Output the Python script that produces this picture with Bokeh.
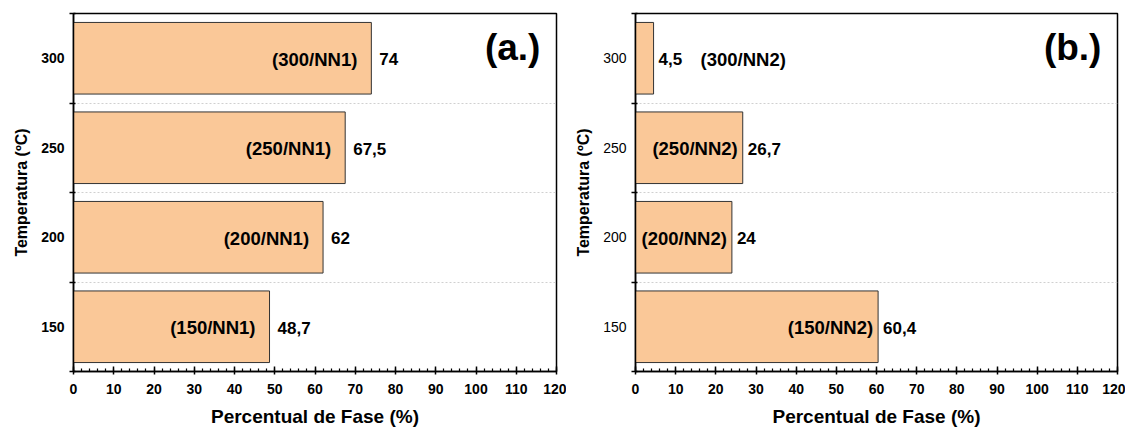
from bokeh.plotting import figure
from bokeh.models import ColumnDataSource, FixedTicker, SingleIntervalTicker, Label
from bokeh.layouts import row
from bokeh.embed import file_html
from bokeh.resources import INLINE
from bokeh.core.properties import value

temperatures = ["150", "200", "250", "300"]
values_a = [48.7, 62, 67.5, 74]
values_b = [60.4, 24, 26.7, 4.5]
sample_a = ["(150/NN1)", "(200/NN1)", "(250/NN1)", "(300/NN1)"]
sample_b = ["(150/NN2)", "(200/NN2)", "(250/NN2)", "(300/NN2)"]
x_label = "Percentual de Fase (%)"
y_label = "Temperatura (ºC)"

FONT = "Liberation Sans"
BAR_FILL = "#FAC898"


def fmt(v):
    return f"{v:g}".replace(".", ",")


def make_panel(vals, names, tag, width, left, right, ylab_bold, in_off, val_off):
    n = len(temperatures)
    ypos = [i + 0.5 for i in range(n)]
    p = figure(width=width, height=429, x_range=(0, 120), y_range=(0, n),
               output_backend="svg", toolbar_location=None,
               min_border_left=left, min_border_right=right,
               min_border_top=13, min_border_bottom=0)
    p.outline_line_color = "black"
    p.outline_line_width = 1.5
    p.xgrid.visible = False
    p.ygrid.ticker = FixedTicker(ticks=list(range(1, n)))
    p.ygrid.grid_line_color = "#c4c4c4"
    p.ygrid.grid_line_dash = "2 2"
    p.ygrid.grid_line_width = 0.8

    src = ColumnDataSource(dict(
        y=ypos, v=vals, name=names, vt=[fmt(v) for v in vals],
    ))
    p.hbar(y="y", right="v", left=0, height=0.8, source=src,
           fill_color=BAR_FILL, line_color="#333333", line_width=1)

    # value labels
    p.text(x="v", y="y", text="vt", source=src, x_offset=val_off,
           y_offset=1, text_align="left", text_baseline="middle",
           text_font=value(FONT), text_font_style="bold", text_font_size="17px",
           text_color="black")

    # sample labels: inside when bar is wide, else after value label
    inside = dict(x=[], y=[], t=[])
    outside = dict(x=[], y=[], t=[])
    for v, y, nm in zip(vals, ypos, names):
        d = inside if v >= 10 else outside
        d["x"].append(v)
        d["y"].append(y)
        d["t"].append(nm)
    p.text(x="x", y="y", text="t", source=ColumnDataSource(inside), x_offset=in_off,
           y_offset=1, text_align="right", text_baseline="middle",
           text_font=value(FONT), text_font_style="bold", text_font_size="18.5px",
           text_color="black")
    p.text(x="x", y="y", text="t", source=ColumnDataSource(outside), x_offset=47,
           y_offset=1, text_align="left", text_baseline="middle",
           text_font=value(FONT), text_font_style="bold", text_font_size="18.5px",
           text_color="black")

    p.add_layout(Label(x=116, y=3.62, text=tag, text_align="right",
                       text_baseline="middle", text_font=FONT,
                       text_font_style="bold", text_font_size="37px",
                       text_color="black"))

    # x axis
    xa = p.xaxis[0]
    xa.ticker = SingleIntervalTicker(interval=10, num_minor_ticks=5)
    xa.axis_label = x_label
    xa.axis_label_text_font = FONT
    xa.axis_label_text_font_style = "bold"
    xa.axis_label_text_font_size = "19px"
    xa.axis_label_text_color = "black"
    xa.axis_label_standoff = 9
    xa.major_label_text_font = FONT
    xa.major_label_text_font_style = "bold"
    xa.major_label_text_font_size = "14px"
    xa.major_label_text_color = "black"
    xa.major_label_standoff = 9
    xa.major_tick_in = 5
    xa.major_tick_out = 3
    xa.minor_tick_in = 3
    xa.minor_tick_out = 0
    xa.axis_line_width = 1.5
    xa.axis_line_color = "black"
    xa.major_tick_line_color = "black"
    xa.minor_tick_line_color = "black"
    xa.major_tick_line_width = 1.5
    xa.minor_tick_line_width = 1.2

    # y axis: labels at band centres, ticks at band boundaries
    ya = p.yaxis[0]
    ya.ticker = FixedTicker(ticks=ypos, minor_ticks=list(range(0, n + 1)))
    ya.major_label_overrides = {y: t for y, t in zip(ypos, temperatures)}
    ya.axis_label = y_label
    ya.axis_label_text_font = FONT
    ya.axis_label_text_font_style = "bold"
    ya.axis_label_text_font_size = "16px"
    ya.axis_label_text_color = "black"
    ya.axis_label_standoff = 8
    ya.major_label_text_font = FONT
    ya.major_label_text_font_style = "bold" if ylab_bold else "normal"
    ya.major_label_text_font_size = "14px"
    ya.major_label_text_color = "black"
    ya.major_label_standoff = 5
    ya.major_tick_in = 0
    ya.major_tick_out = 0
    ya.minor_tick_in = 2
    ya.minor_tick_out = 4
    ya.minor_tick_line_width = 1.5
    ya.minor_tick_line_color = "black"
    ya.axis_line_width = 1.5
    ya.axis_line_color = "black"
    return p


pa = make_panel(values_a, sample_a, "(a.)", 566, 73, 10, True, -14, 8)
pb = make_panel(values_b, sample_b, "(b.)", 559, 69, 8, False, -5, 5)

layout = row(pa, pb)
open("out.html", "w").write(file_html(layout, INLINE))
